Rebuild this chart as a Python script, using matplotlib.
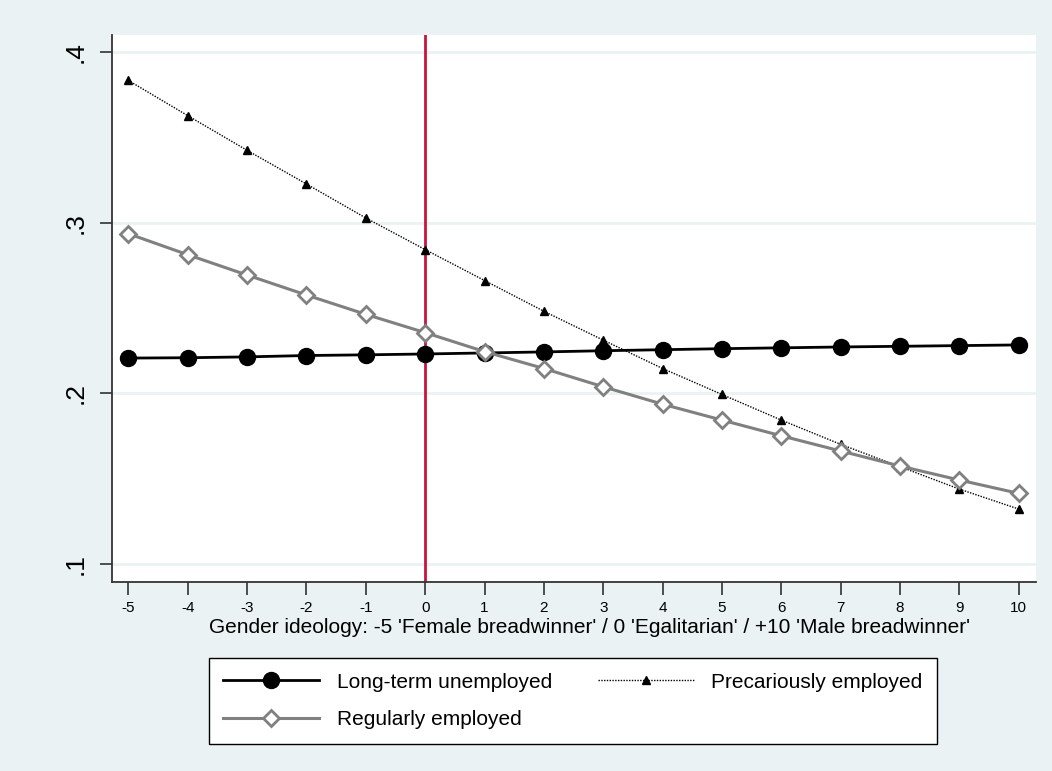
import matplotlib
matplotlib.use("Agg")
import matplotlib.pyplot as plt

plt.rcParams['font.family'] = ['Liberation Sans', 'DejaVu Sans']

x = [-5, -4, -3, -2, -1, 0, 1, 2, 3, 4, 5, 6, 7, 8, 9, 10]
ltu = [.2207, .2209, .2214, .2222, .2226, .2231, .2237, .2243, .2250, .2256, .2262, .2267, .2272, .2276, .2280, .2284]
precarious = [.3832, .3626, .3423, .3226, .3027, .2842, .2661, .2481, .2312, .2146, .1994, .1844, .1702, .1571, .1440, .1323]
regular = [.2935, .2812, .2693, .2576, .2463, .2356, .2245, .2146, .2039, .1937, .1844, .1752, .1663, .1575, .1493, .1415]
yticks = [.1, .2, .3, .4]
ylabels = ['.1', '.2', '.3', '.4']
xlab = "Gender ideology: -5 'Female breadwinner' / 0 'Egalitarian' / +10 'Male breadwinner'"

bg = '#eaf2f3'
fig = plt.figure(figsize=(10.52, 7.71), dpi=100, facecolor=bg)
ax = fig.add_axes([0.1062, 0.2455, 0.8786, 0.7091])
ax.set_facecolor('white')

for t in yticks:
    ax.axhline(t, color=bg, lw=2, zorder=0)
ax.axvline(0, color='#c8143c', lw=2, zorder=1)

l1, = ax.plot(x, ltu, color='black', lw=2, marker='o', ms=11.5, mfc='black', mec='black', zorder=3)
l3, = ax.plot(x, regular, color='#808080', lw=2.2, marker='D', ms=8, mfc='white', mec='#808080', mew=2, zorder=4)
l2, = ax.plot(x, precarious, color='black', lw=1, ls=(0, (1, 1)), marker='^', ms=6, zorder=2)

ax.set_xlim(-5.28, 10.29)
ax.set_ylim(.0898, .4098)
ax.set_xticks(x)
ax.set_xticklabels([str(v) for v in x], fontsize=11)
ax.set_yticks(yticks)
ax.set_yticklabels(ylabels, fontsize=19, rotation=90, va='center')
ax.tick_params(axis='both', direction='out', length=9, width=1.2, color='#333333')
ax.tick_params(axis='x', pad=5)
ax.tick_params(axis='y', pad=8)
for s in ['top', 'right']:
    ax.spines[s].set_visible(False)
for s in ['left', 'bottom']:
    ax.spines[s].set_color('#333333')
    ax.spines[s].set_linewidth(1.3)
ax.set_xlabel(xlab, fontsize=15)
ax.xaxis.set_label_coords(0.517, -0.066)

leg = fig.legend([l1, l3, l2], ['Long-term unemployed', 'Regularly employed', 'Precariously employed'],
                 ncol=2, loc='center', bbox_to_anchor=(573/1052, 1 - 701/771), fontsize=15,
                 frameon=True, fancybox=False, edgecolor='black', facecolor='white', framealpha=1,
                 handlelength=4.6, handletextpad=0.85, columnspacing=2.2, labelspacing=0.9,
                 borderpad=0.7)
leg.get_frame().set_linewidth(1)

fig.savefig('out.png', dpi=100, facecolor=bg)
